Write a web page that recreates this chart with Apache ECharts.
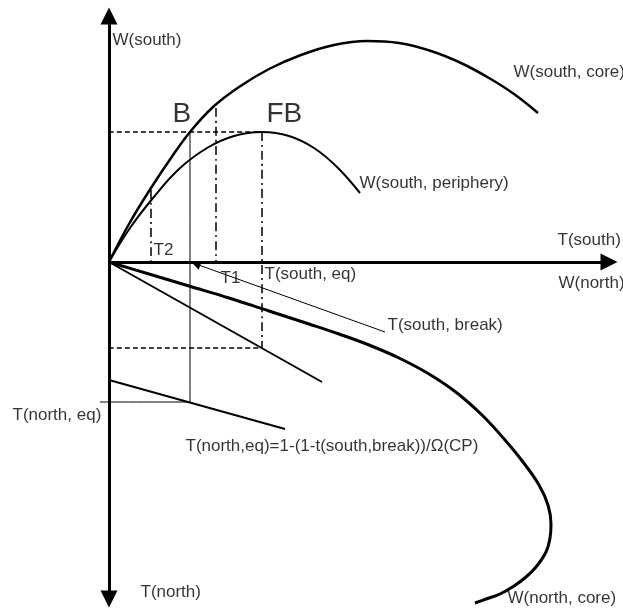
<!doctype html>
<html lang="en">

<head>
    <meta charset="utf-8">
    <title>W / T diagram</title>
    <script src="https://cdn.jsdelivr.net/npm/echarts@6/dist/echarts.min.js"></script>
    <style type="text/css">
        html, body {
            margin: 0;
            background: #fff;
        }
    </style>
</head>

<body>
    <div id="chart" style="width: 623px; height: 611px;"></div>
    <script>
        // diagram coordinates: origin where the two axes cross, y up
        let southCore = [[0, 0], [20, 38], [42, 74], [62, 104], [81, 130], [104, 155], [130, 175], [160, 193],
            [192, 207], [225, 217], [258, 221], [290, 219], [322, 211], [352, 199], [380, 184], [405, 168], [429, 149]];
        let southPeriphery = [[0, 0], [21, 34], [44, 64], [70, 93], [98, 114], [125, 126], [153, 130], [180, 126],
            [205, 114], [228, 95], [251, 69]];
        let northCore = [[0, 0], [40, -12], [80, -24], [120, -36], [160, -49], [200, -62], [230, -72], [260, -83],
            [290, -96], [320, -112], [348, -131], [374, -154], [396, -178], [414, -200], [430, -223], [439, -243],
            [442, -262], [441, -276], [437, -290], [427, -305], [417, -315], [405, -324], [391, -332], [377, -337],
            [366, -341]];
        let northLine = [[0, 0], [213, -120]];
        let northEqLine = [[0, -118], [176, -167]];

        let solidThin = [
            [[81, 130], [81, -140]],   // B down to T(north, eq)
            [[-9, -140], [81, -140]]   // T(north, eq) level
        ];
        let dashed = [
            [[0, 130], [153, 130]],
            [[0, -86], [153, -86]]
        ];
        let dashDot = [
            [[153, 130], [153, -86]],  // FB -> T(south, eq)
            [[107, 154], [107, 0]],    // T1
            [[42, 72], [42, 0]]        // T2
        ];
        let pointer = [[276, -70], [87, -2]];
        let axisH = [[0, 0], [500, 0]];
        let axisV = [[0, -337], [0, 246]];

        let labels = [
            [3, 222, 'W(south)'],
            [404, 190, 'W(south, core)'],
            [250, 79, 'W(south, periphery)'],
            [44, 12, 'T2'],
            [448, 22, 'T(south)'],
            [449, -21, 'W(north)'],
            [111, -16, 'T1'],
            [155, -12, 'T(south, eq)'],
            [278, -63, 'T(south, break)'],
            [-97, -153, 'T(north, eq)'],
            [76, -184, 'T(north,eq)=1-(1-t(south,break))/Ω(CP)'],
            [31, -330, 'T(north)'],
            [398, -336, 'W(north, core)']
        ];
        let bigLabels = [
            [63, 148, 'B'],
            [157, 148, 'FB']
        ];

        function curve(data, width, type) {
            return {
                type: 'line',
                data: data,
                showSymbol: false,
                smooth: 0.4,
                lineStyle: { color: '#000', width: width, type: type || 'solid' }
            };
        }

        function segments(list, width, type) {
            return list.map(function (seg) { return curve(seg, width, type); });
        }

        function arrowLine(coords, size, width, both) {
            return {
                type: 'lines',
                coordinateSystem: 'cartesian2d',
                symbol: both ? ['triangle', 'triangle'] : ['none', 'triangle'],
                symbolSize: size,
                lineStyle: { color: '#000', width: width, opacity: 1 },
                data: [{ coords: coords }]
            };
        }

        function textSeries(list, size) {
            return {
                type: 'scatter',
                data: list,
                symbolSize: 1,
                itemStyle: { color: 'rgba(0,0,0,0)' },
                label: {
                    show: true,
                    position: 'right',
                    distance: 0,
                    color: '#000',
                    fontFamily: 'Liberation Sans',
                    fontSize: size,
                    formatter: function (p) { return p.data[2]; }
                }
            };
        }

        let chart = echarts.init(document.getElementById('chart'));
        let series = [
            curve(southCore, 2.5),
            curve(southPeriphery, 2),
            curve(northCore, 3),
            curve(northLine, 2),
            curve(northEqLine, 2)
        ];
        series = series.concat(segments(solidThin, 1));
        series = series.concat(segments(dashed, 1.5, [5, 3]));
        series = series.concat(segments(dashDot, 1.5, [9, 4, 2, 4]));
        series.push(arrowLine(pointer, 9, 1, false));
        series.push(arrowLine(axisH, 17, 3, false));
        series.push(arrowLine(axisV, 17, 3, true));
        series.push(textSeries(labels, 17));
        series.push(textSeries(bigLabels, 28));

        let option = {
            animation: false,
            grid: { left: 0, right: 0, top: 0, bottom: 0 },
            xAxis: { type: 'value', min: -109, max: 514, show: false },
            yAxis: { type: 'value', min: -349, max: 262, show: false },
            series: series
        };
        chart.setOption(option);
    </script>
</body>

</html>
